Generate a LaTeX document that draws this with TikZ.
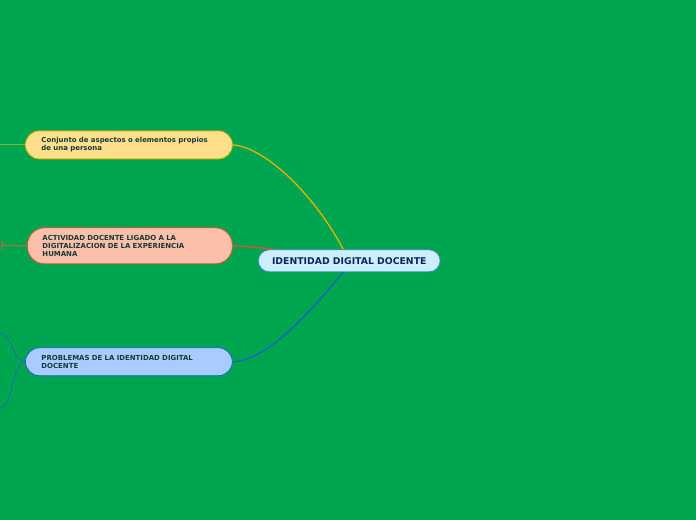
\documentclass[tikz,border=0pt]{standalone}
\usepackage{fontspec}
\setmainfont{DejaVu Sans}
\definecolor{field}{HTML}{00A54F}
\definecolor{ink}{HTML}{163A36}
\definecolor{navy}{HTML}{0F2656}
\definecolor{mainfill}{HTML}{CDEEFF}
\definecolor{mainline}{HTML}{3E8CC6}
\definecolor{yfill}{HTML}{FFDF8C}
\definecolor{yline}{HTML}{EDAE00}
\definecolor{ystub}{HTML}{86B23E}
\definecolor{rfill}{HTML}{FBBFAA}
\definecolor{rline}{HTML}{E4502A}
\definecolor{rstub}{HTML}{A8703A}
\definecolor{bfill}{HTML}{A9CBFF}
\definecolor{bline}{HTML}{1565C8}
\definecolor{bstub}{HTML}{1F74A6}
\pgfdeclarelayer{bg}
\pgfdeclarelayer{links}
\pgfsetlayers{bg,links,main}

\begin{document}
\begin{tikzpicture}[x=1pt,y=-1pt,
  topic/.style={draw,line width=.8pt,rounded corners=14pt,minimum height=28pt,inner xsep=16pt,text width=175pt,align=left,text=ink,font=\fontsize{6.95}{8.3}\selectfont\bfseries},
  link/.style={line width=1.3pt},
  stub/.style={line width=1pt}]
\begin{pgfonlayer}{bg}
\fill[field] (0,0) rectangle (696,520);
\end{pgfonlayer}
\node[draw=mainline,fill=mainfill,line width=.8pt,rounded corners=11pt,minimum width=182pt,minimum height=22pt,inner xsep=4pt,text=navy,font=\fontsize{9.3}{10}\selectfont\bfseries] (hub) at (349,261) {IDENTIDAD DIGITAL DOCENTE};
\node[topic,draw=yline,fill=yfill] (concept) at (128.5,145) {Conjunto de aspectos o elementos propios\\de una persona};
\node[topic,draw=rline,fill=rfill,rounded corners=17pt,minimum height=36pt,inner xsep=15pt] (activity) at (129.5,246) {ACTIVIDAD DOCENTE LIGADO A LA\\DIGITALIZACION DE LA EXPERIENCIA\\HUMANA};
\node[topic,draw=bline,fill=bfill] (problems) at (128.5,362) {PROBLEMAS DE LA IDENTIDAD DIGITAL\\DOCENTE};
\coordinate (yend) at (0,145);
\coordinate (rend) at (1.5,245.5);
\coordinate (bup) at (0,334);
\coordinate (bdown) at (0,408);
\begin{pgfonlayer}{links}
\draw[link,yline] (concept.east) .. controls (265,147) and (315,196) .. ([xshift=-6pt]hub.north);
\draw[link,rline] (activity.east) .. controls (250,246) and (300,252) .. (hub.center);
\draw[link,bline] (problems.east) .. controls (270,361) and (318,302) .. ([xshift=-6pt]hub.south);
% dangling branches at the left margin
\draw[stub,ystub] (concept.west) -- (yend);
\draw[stub,rstub,line width=1.3pt] (activity.west) -- (rend) ++(0,-5) -- ++(0,10);
\draw[stub,bstub] (problems.west) .. controls (12,362) and (12,334) .. (bup);
\draw[stub,bstub] (problems.west) .. controls (12,362) and (12,408) .. (bdown);
\end{pgfonlayer}
\end{tikzpicture}
\end{document}
